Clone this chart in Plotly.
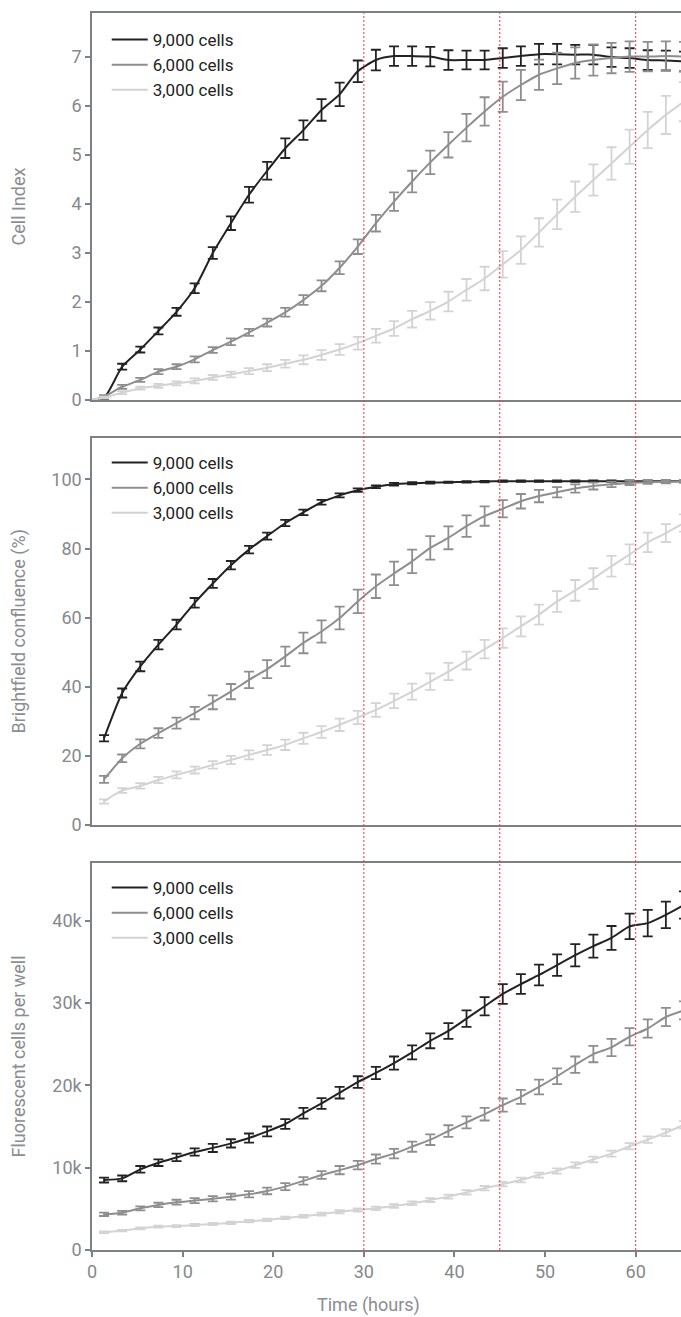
import plotly.graph_objects as go

hours = [1.33, 3.33, 5.33, 7.33, 9.33, 11.33, 13.33, 15.33, 17.33, 19.33, 21.33,
         23.33, 25.33, 27.33, 29.33, 31.33, 33.33, 35.33, 37.33, 39.33, 41.33,
         43.33, 45.33, 47.33, 49.33, 51.33, 53.33, 55.33, 57.33, 59.33, 61.33,
         63.33, 65.33]
series_names = ["9,000 cells", "6,000 cells", "3,000 cells"]
colors = ["#222222", "#8e8e8e", "#d3d3d3"]

# Panel 1: Cell Index (starts at 0 h with value 0)
ci_start_hour = 0
ci_start_value = 0
ci_9000 = [0.04, 0.68, 1.03, 1.41, 1.80, 2.28, 3.00, 3.61, 4.19, 4.68, 5.14, 5.51,
           5.92, 6.24, 6.71, 6.94, 7.02, 7.02, 7.01, 6.94, 6.94, 6.94, 6.98, 7.02,
           7.06, 7.06, 7.05, 7.05, 7.00, 6.98, 6.94, 6.93, 6.91]
ci_9000_err = [0.03, 0.06, 0.06, 0.07, 0.08, 0.10, 0.12, 0.14, 0.16, 0.18, 0.20, 0.20,
               0.22, 0.24, 0.22, 0.21, 0.20, 0.20, 0.20, 0.20, 0.19, 0.19, 0.20, 0.20,
               0.21, 0.21, 0.20, 0.20, 0.20, 0.20, 0.20, 0.20, 0.20]
ci_6000 = [0.07, 0.27, 0.41, 0.58, 0.68, 0.83, 1.02, 1.19, 1.38, 1.58, 1.79, 2.04,
           2.33, 2.70, 3.13, 3.61, 4.05, 4.46, 4.85, 5.21, 5.56, 5.89, 6.19, 6.43,
           6.64, 6.77, 6.88, 6.94, 6.98, 7.01, 7.01, 7.02, 7.01]
ci_6000_err = [0.03, 0.04, 0.04, 0.05, 0.05, 0.06, 0.06, 0.07, 0.07, 0.08, 0.09, 0.10,
               0.11, 0.13, 0.15, 0.17, 0.19, 0.22, 0.24, 0.26, 0.28, 0.29, 0.31, 0.31,
               0.31, 0.32, 0.32, 0.32, 0.31, 0.31, 0.30, 0.30, 0.30]
ci_3000 = [0.05, 0.15, 0.24, 0.29, 0.34, 0.39, 0.46, 0.52, 0.59, 0.66, 0.74, 0.82,
           0.92, 1.03, 1.16, 1.31, 1.46, 1.65, 1.82, 2.01, 2.25, 2.48, 2.77, 3.06,
           3.42, 3.79, 4.15, 4.49, 4.83, 5.17, 5.51, 5.82, 6.09]
ci_3000_err = [0.02, 0.03, 0.03, 0.04, 0.04, 0.05, 0.05, 0.06, 0.06, 0.07, 0.08, 0.09,
               0.10, 0.11, 0.13, 0.14, 0.15, 0.17, 0.18, 0.20, 0.22, 0.24, 0.27, 0.28,
               0.29, 0.30, 0.31, 0.32, 0.33, 0.35, 0.37, 0.39, 0.40]

# Panel 2: Brightfield confluence (%)
bf_9000 = [25.1, 38.2, 45.9, 52.2, 58.0, 64.3, 69.9, 75.2, 79.7, 83.6, 87.4, 90.5,
           93.4, 95.4, 96.9, 97.9, 98.6, 98.9, 99.1, 99.2, 99.3, 99.4, 99.5, 99.5,
           99.5, 99.5, 99.5, 99.5, 99.5, 99.5, 99.5, 99.5, 99.5]
bf_9000_err = [0.9, 1.3, 1.4, 1.4, 1.4, 1.4, 1.3, 1.2, 1.1, 1.0, 0.9, 0.8,
               0.7, 0.6, 0.5, 0.4, 0.4, 0.3, 0.3, 0.2, 0.2, 0.2, 0.2, 0.2,
               0.2, 0.2, 0.2, 0.2, 0.2, 0.2, 0.2, 0.2, 0.2]
bf_6000 = [13.2, 19.3, 23.5, 26.6, 29.5, 32.4, 35.5, 38.6, 42.0, 45.1, 48.8, 52.7,
           56.0, 59.9, 64.7, 69.1, 72.8, 76.3, 80.2, 83.1, 86.5, 89.4, 91.5, 93.7,
           95.2, 96.3, 97.4, 98.1, 98.6, 99.0, 99.2, 99.3, 99.4]
bf_6000_err = [1.0, 1.1, 1.3, 1.4, 1.6, 1.8, 2.0, 2.2, 2.4, 2.6, 2.8, 3.0,
               3.2, 3.3, 3.4, 3.4, 3.4, 3.4, 3.4, 3.3, 3.1, 2.8, 2.5, 2.1,
               1.8, 1.5, 1.2, 1.0, 0.8, 0.6, 0.5, 0.4, 0.4]
bf_3000 = [6.8, 10.0, 11.3, 13.0, 14.5, 15.9, 17.4, 18.8, 20.3, 21.7, 23.2, 25.1,
           26.9, 29.0, 31.1, 33.3, 35.9, 38.6, 41.5, 44.4, 47.6, 50.9, 54.1, 57.5,
           60.9, 64.7, 67.9, 71.3, 74.9, 78.3, 81.8, 84.5, 87.4]
bf_3000_err = [0.6, 0.7, 0.8, 0.9, 1.0, 1.0, 1.1, 1.2, 1.3, 1.4, 1.5, 1.6,
               1.7, 1.8, 1.9, 2.0, 2.1, 2.3, 2.4, 2.5, 2.6, 2.7, 2.8, 2.9,
               2.9, 3.0, 3.0, 3.0, 3.0, 2.9, 2.8, 2.6, 2.5]

# Panel 3: Fluorescent cells per well
fl_9000 = [8500, 8700, 9800, 10600, 11250, 11900, 12400, 12950, 13600, 14400, 15300,
           16600, 17800, 19100, 20400, 21500, 22700, 24000, 25400, 26600, 28100,
           29600, 31100, 32300, 33400, 34600, 35800, 36900, 37900, 39300, 39700,
           40700, 41900]
fl_9000_err = [300, 350, 400, 400, 450, 450, 500, 500, 550, 600, 600,
               650, 650, 700, 700, 750, 800, 850, 900, 950, 1000,
               1100, 1200, 1200, 1250, 1300, 1350, 1400, 1450, 1550, 1600,
               1600, 1650]
fl_6000 = [4330, 4530, 5060, 5470, 5800, 6000, 6230, 6480, 6760, 7170, 7700,
           8400, 9100, 9700, 10300, 11050, 11700, 12550, 13400, 14450, 15500,
           16500, 17600, 18600, 19800, 21100, 22500, 23800, 24600, 25900, 26900,
           28300, 29100]
fl_6000_err = [200, 220, 250, 270, 300, 300, 320, 350, 380, 400, 420,
               450, 470, 500, 520, 550, 580, 620, 650, 700, 730,
               770, 800, 850, 900, 950, 1000, 1000, 1050, 1050, 1100,
               1100, 1100]
fl_3000 = [2150, 2350, 2630, 2830, 2900, 3040, 3160, 3300, 3500, 3650, 3900,
           4100, 4370, 4650, 4860, 5060, 5340, 5670, 6070, 6480, 7000,
           7500, 8000, 8500, 9100, 9600, 10300, 11000, 11700, 12600, 13400,
           14250, 15200]
fl_3000_err = [100, 100, 110, 120, 120, 130, 130, 140, 150, 150, 160,
               170, 180, 190, 200, 210, 220, 230, 240, 250, 260,
               270, 280, 290, 300, 320, 330, 340, 360, 380, 400,
               420, 440]

marker_hours = [30, 45, 60]

fig = go.Figure()

panels = [
    ("x", "y", "legend", [ci_9000, ci_6000, ci_3000], [ci_9000_err, ci_6000_err, ci_3000_err], True),
    ("x2", "y2", "legend2", [bf_9000, bf_6000, bf_3000], [bf_9000_err, bf_6000_err, bf_3000_err], False),
    ("x3", "y3", "legend3", [fl_9000, fl_6000, fl_3000], [fl_9000_err, fl_6000_err, fl_3000_err], False),
]

for xa, ya, lg, vals, errs, start0 in panels:
    for name, col, v, e in zip(series_names, colors, vals, errs):
        xs = list(hours)
        ys = list(v)
        es = list(e)
        if start0:
            xs = [ci_start_hour] + xs
            ys = [ci_start_value] + ys
            es = [0] + es
        fig.add_trace(go.Scatter(
            x=xs, y=ys, mode="lines", name=name,
            line=dict(color=col, width=2, shape="spline", smoothing=0.6),
            error_y=dict(type="data", array=es, visible=True, color=col,
                         thickness=1.8, width=5),
            xaxis=xa, yaxis=ya, legend=lg, showlegend=True,
        ))

axis_col = "#7d8085"
tick_font = dict(family="Roboto, sans-serif", size=18, color="#85888d")
H = 1317
top_px, bot_px = 13, 1250
span = bot_px - top_px
def dom(a, b):
    return [(bot_px - b) / span, (bot_px - a) / span]

xcommon = dict(range=[0, 65.0], showgrid=False, zeroline=False, showline=True,
               linecolor=axis_col, linewidth=1.5, mirror=True)
ycommon = dict(showgrid=False, zeroline=False, showline=True, linecolor=axis_col,
               linewidth=1.5, ticks="outside", ticklen=5, tickcolor=axis_col,
               tickwidth=1.5, tickfont=tick_font)

fig.update_layout(
    width=681, height=H,
    margin=dict(l=92, r=0, t=top_px, b=H - bot_px),
    paper_bgcolor="white", plot_bgcolor="white",
    font=dict(family="Roboto, sans-serif"),
    xaxis=dict(**xcommon, anchor="y", showticklabels=False, matches="x3"),
    xaxis2=dict(**xcommon, anchor="y2", showticklabels=False, matches="x3"),
    xaxis3=dict(**xcommon, anchor="y3", ticks="outside", ticklen=5, tickcolor=axis_col,
                tickwidth=1.5, tickfont=tick_font, tickvals=[0, 10, 20, 30, 40, 50, 60]),
    yaxis=dict(**ycommon, domain=dom(13, 400), range=[0, 7.9], dtick=1, anchor="x"),
    yaxis2=dict(**ycommon, domain=dom(438, 825), range=[0, 112], dtick=20, anchor="x2"),
    yaxis3=dict(**ycommon, domain=dom(863, 1250), range=[0, 47000],
                tickvals=[0, 10000, 20000, 30000, 40000],
                ticktext=["0", "10k", "20k", "30k", "40k"], anchor="x3"),
)

leg_font = dict(family="Roboto, sans-serif", size=17, color="#222222")
for key, ytop in [("legend", 22), ("legend2", 445), ("legend3", 870)]:
    fig.update_layout({key: dict(x=0.025, y=(bot_px - ytop) / span, xanchor="left",
                                 yanchor="top", bgcolor="rgba(0,0,0,0)",
                                 font=leg_font, tracegroupgap=0, itemwidth=36)})

for h in marker_hours:
    fig.add_shape(type="line", xref="x3", yref="paper", x0=h, x1=h, y0=0, y1=1,
                  line=dict(color="#ff3030", width=1, dash="2px,2px"), layer="above")

title_font = dict(family="Roboto, sans-serif", size=18, color="#8a8d92")
for txt, ymid in [("Cell Index", 206.5), ("Brightfield confluence (%)", 631.5),
                  ("Fluorescent cells per well", 1056.5)]:
    fig.add_annotation(text=txt, textangle=-90, xref="paper", yref="paper",
                       x=(18 - 92) / 589, y=(bot_px - ymid) / span,
                       xanchor="center", yanchor="middle", showarrow=False,
                       font=title_font)
fig.add_annotation(text="Time (hours)", xref="paper", yref="paper",
                   x=(368 - 92) / 589, y=(bot_px - 1305) / span,
                   xanchor="center", yanchor="middle", showarrow=False,
                   font=title_font)

fig.write_html("out.html")
